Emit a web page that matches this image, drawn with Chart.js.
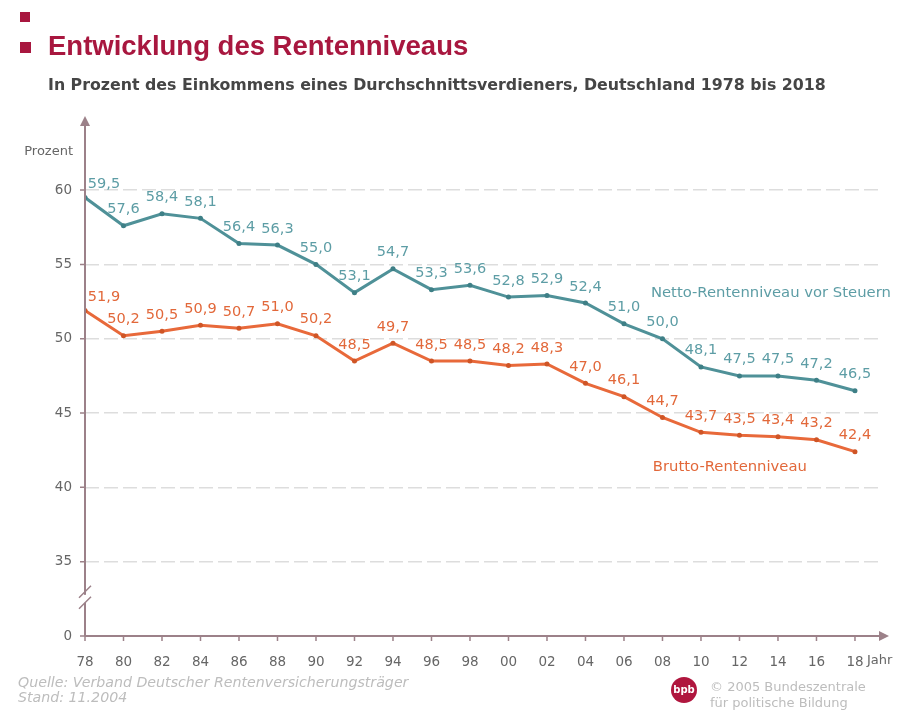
<!DOCTYPE html>
<html>
<head>
<meta charset="utf-8">
<script src="https://cdn.jsdelivr.net/npm/chart.js@4"></script>
<style>
  body { margin: 0; background: #fff; width: 911px; height: 711px; overflow: hidden; position: relative; font-family: "DejaVu Sans", Verdana, sans-serif; }
  #c { position: absolute; left: 0; top: 0; }
  .sq { position: absolute; width: 10px; height: 10px; background: #a8173f; }
  #title { position: absolute; left: 48px; top: 30px; font: bold 27.5px "Liberation Sans", Arial, sans-serif; color: #a8173f; white-space: nowrap; }
  #sub { position: absolute; left: 48px; top: 75px; font: bold 15.8px "DejaVu Sans", Verdana, sans-serif; color: #454545; white-space: nowrap; }
  #src { position: absolute; left: 18px; top: 675px; font: italic 14.2px "DejaVu Sans", Verdana, sans-serif; color: #bdbdbd; line-height: 15px; }
  #bpb { position: absolute; left: 671px; top: 677px; width: 26px; height: 26px; border-radius: 13px; background: #b0163e; color: #fff; font: bold 10px "DejaVu Sans", sans-serif; text-align: center; line-height: 26px; }
  #copy { position: absolute; left: 710px; top: 679px; font: 13px "DejaVu Sans", Verdana, sans-serif; color: #bdbdbd; line-height: 16px; }
</style>
</head>
<body>
<canvas id="c" width="911" height="711"></canvas>
<div class="sq" style="left:20px;top:12px"></div>
<div class="sq" style="left:20px;top:42px;width:11px;height:11px"></div>
<div id="title">Entwicklung des Rentenniveaus</div>
<div id="sub">In Prozent des Einkommens eines Durchschnittsverdieners, Deutschland 1978 bis 2018</div>
<div id="src">Quelle: Verband Deutscher Rentenversicherungsträger<br>Stand: 11.2004</div>
<div id="bpb">bpb</div>
<div id="copy">© 2005 Bundeszentrale<br>für politische Bildung</div>
<script>
// Jahre (x-Achse)
var years = ["78", "80", "82", "84", "86", "88", "90", "92", "94", "96", "98",
             "00", "02", "04", "06", "08", "10", "12", "14", "16", "18"];

// Netto-Rentenniveau vor Steuern
var netto = [59.5, 57.6, 58.4, 58.1, 56.4, 56.3, 55.0, 53.1, 54.7, 53.3, 53.6,
             52.8, 52.9, 52.4, 51.0, 50.0, 48.1, 47.5, 47.5, 47.2, 46.5];

// Brutto-Rentenniveau
var brutto = [51.9, 50.2, 50.5, 50.9, 50.7, 51.0, 50.2, 48.5, 49.7, 48.5, 48.5,
              48.2, 48.3, 47.0, 46.1, 44.7, 43.7, 43.5, 43.4, 43.2, 42.4];

// y-Achse mit Bruch: 30 steht fuer die "0"
var yTickValues = [30, 35, 40, 45, 50, 55, 60];
var yTickLabels = ["0", "35", "40", "45", "50", "55", "60"];

var axisColor = "#9c8189";
var nettoColor = "#4f9198";
var bruttoColor = "#e8693a";

function fmt(v) {
  return v.toFixed(1).replace(".", ",");
}

function toPoints(arr) {
  return arr.map(function(v, i) { return { x: i, y: v }; });
}

var decorPlugin = {
  id: "decor",
  afterDatasetsDraw: function(chart) {
    var ctx = chart.ctx;
    var xs = chart.scales.x;
    var ys = chart.scales.y;
    var area = chart.chartArea;
    var x0 = area.left;
    var y0 = area.bottom;

    ctx.save();
    // value labels
    ctx.font = "14.5px 'DejaVu Sans', Verdana, sans-serif";
    ctx.textAlign = "center";
    ctx.textBaseline = "bottom";
    var labelColors = ["#5d9da5", "#e2683a"];
    chart.data.datasets.forEach(function(ds, di) {
      var meta = chart.getDatasetMeta(di);
      ctx.fillStyle = labelColors[di];
      meta.data.forEach(function(pt, i) {
        var dx = i === 0 ? 19 : 0;
        var dy = i === 0 ? 3 : 0;
        ctx.fillText(fmt(ds.data[i].y), pt.x + dx, pt.y - 9 + dy);
      });
    });

    // series names
    ctx.textAlign = "left";
    ctx.textBaseline = "middle";
    ctx.font = "14.8px 'DejaVu Sans', Verdana, sans-serif";
    ctx.fillStyle = "#5d9da5";
    ctx.fillText("Netto-Rentenniveau vor Steuern", xs.getPixelForValue(14.7), ys.getPixelForValue(53.1));
    ctx.fillStyle = "#e2683a";
    ctx.fillText("Brutto-Rentenniveau", xs.getPixelForValue(14.75), ys.getPixelForValue(41.35));

    // axes
    ctx.strokeStyle = axisColor;
    ctx.fillStyle = axisColor;
    ctx.lineWidth = 2;
    ctx.beginPath();
    ctx.moveTo(x0, y0);
    ctx.lineTo(x0, area.top + 6);
    ctx.moveTo(x0, y0);
    ctx.lineTo(area.right + 2, y0);
    ctx.stroke();

    // arrows
    ctx.beginPath();
    ctx.moveTo(x0, area.top - 2);
    ctx.lineTo(x0 - 5, area.top + 8);
    ctx.lineTo(x0 + 5, area.top + 8);
    ctx.closePath();
    ctx.fill();
    ctx.beginPath();
    ctx.moveTo(area.right + 9, y0);
    ctx.lineTo(area.right - 1, y0 - 5);
    ctx.lineTo(area.right - 1, y0 + 5);
    ctx.closePath();
    ctx.fill();

    // tick marks
    ctx.lineWidth = 1.5;
    ctx.beginPath();
    for (var i = 0; i < years.length; i++) {
      var px = xs.getPixelForValue(i);
      ctx.moveTo(px, y0);
      ctx.lineTo(px, y0 + 5);
    }
    yTickValues.forEach(function(v) {
      var py = ys.getPixelForValue(v);
      ctx.moveTo(x0, py);
      ctx.lineTo(x0 - 5, py);
    });
    ctx.stroke();

    // axis break
    var yb = ys.getPixelForValue(32.5);
    ctx.fillStyle = "#fff";
    ctx.fillRect(x0 - 3, yb - 4, 6, 8);
    ctx.strokeStyle = axisColor;
    ctx.lineWidth = 1.5;
    ctx.beginPath();
    ctx.moveTo(x0 - 6, yb - 1);
    ctx.lineTo(x0 + 6, yb - 13);
    ctx.moveTo(x0 - 6, yb + 10);
    ctx.lineTo(x0 + 6, yb - 2);
    ctx.stroke();

    // axis titles
    ctx.fillStyle = "#666";
    ctx.font = "13px 'DejaVu Sans', Verdana, sans-serif";
    ctx.textAlign = "right";
    ctx.fillText("Prozent", x0 - 12, ys.getPixelForValue(62.6));
    ctx.textAlign = "left";
    ctx.fillText("Jahr", area.right - 13, y0 + 25);
    ctx.restore();
  }
};

var chartConfig = {
  type: "line",
  data: {
    datasets: [
      {
        label: "Netto-Rentenniveau vor Steuern",
        data: toPoints(netto),
        borderColor: nettoColor,
        backgroundColor: "#3e7f86",
        pointBackgroundColor: "#3e7f86",
        pointBorderWidth: 0,
        pointRadius: 2.5,
        borderWidth: 3,
        tension: 0,
      },
      {
        label: "Brutto-Rentenniveau",
        data: toPoints(brutto),
        borderColor: bruttoColor,
        backgroundColor: "#cf5526",
        pointBackgroundColor: "#cf5526",
        pointBorderWidth: 0,
        pointRadius: 2.5,
        borderWidth: 3,
        tension: 0,
      },
    ],
  },
  options: {
    responsive: false,
    animation: false,
    layout: { padding: { left: 0, right: 31, top: 118, bottom: 0 } },
    plugins: {
      legend: { display: false },
      tooltip: { enabled: false },
    },
    scales: {
      x: {
        type: "linear",
        min: 0,
        max: 20.65,
        afterFit: function(scale) { scale.height = 75; },
        afterBuildTicks: function(scale) {
          scale.ticks = years.map(function(y, i) { return { value: i }; });
        },
        ticks: {
          padding: 10,
          color: "#666",
          font: { size: 13.5, family: "'DejaVu Sans', Verdana, sans-serif" },
          maxRotation: 0,
          autoSkip: false,
          callback: function(value) { return years[value]; },
        },
        grid: { display: false },
        border: { display: false },
      },
      y: {
        min: 30,
        max: 64.85,
        afterFit: function(scale) { scale.width = 85; },
        afterBuildTicks: function(scale) {
          scale.ticks = yTickValues.map(function(v) { return { value: v }; });
        },
        ticks: {
          padding: 13,
          color: "#666",
          font: { size: 13.5, family: "'DejaVu Sans', Verdana, sans-serif" },
          callback: function(value) { return yTickLabels[yTickValues.indexOf(value)]; },
        },
        grid: {
          drawTicks: false,
          lineWidth: 1.5,
          color: function(ctx) {
            return ctx.tick && ctx.tick.value === 30 ? "rgba(0,0,0,0)" : "#dddddd";
          },
          borderDash: [14, 5],
        },
        border: { display: false, dash: [14, 5] },
      },
    },
  },
  plugins: [decorPlugin],
};

new Chart(document.getElementById("c"), chartConfig);
</script>
</body>
</html>
